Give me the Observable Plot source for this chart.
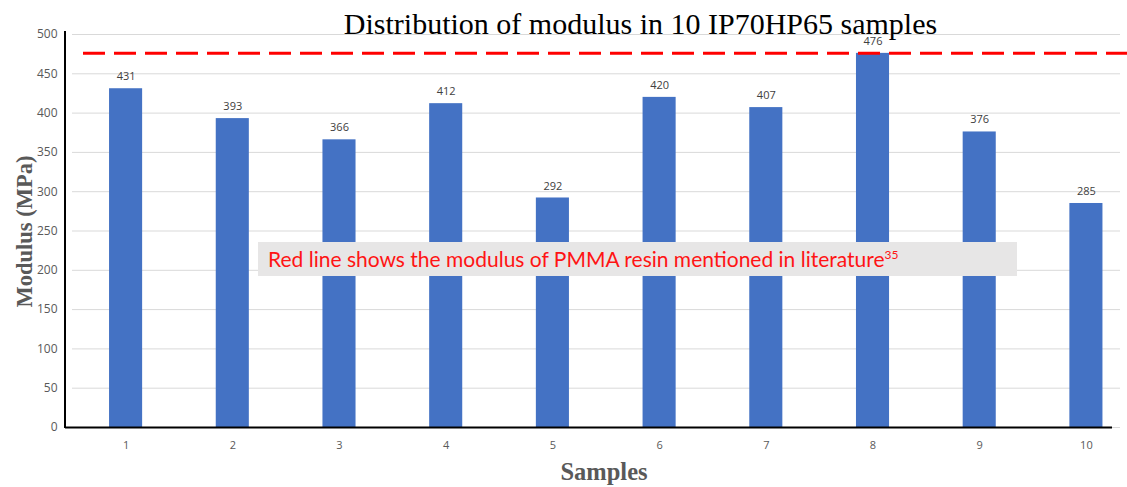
<!DOCTYPE html>
<html>
<head>
<meta charset="utf-8">
<script src="https://cdn.jsdelivr.net/npm/d3@7"></script>
<script src="https://cdn.jsdelivr.net/npm/@observablehq/plot@0.6"></script>
<style>
  html, body { margin: 0; padding: 0; background: #fff; }
  #wrap { position: relative; width: 1127px; height: 487px; }
  #note {
    position: absolute; left: 258px; top: 242px; width: 759px; height: 34px;
    background: #e7e6e6; color: #ff1414;
    font-family: Lato, sans-serif; font-size: 21px; line-height: 34px;
    box-sizing: border-box; padding-left: 10px; white-space: nowrap;
  }
  #note sup { font-size: 12px; vertical-align: 8px; line-height: 0; }
</style>
</head>
<body>
<div id="wrap"><div id="chart"></div><div id="note">Red line shows the modulus of PMMA resin mentioned in literature<sup>35</sup></div></div>
<script>
const samples = [1, 2, 3, 4, 5, 6, 7, 8, 9, 10];
const modulus = [431, 393, 366, 412, 292, 420, 407, 476, 376, 285];
const literatureModulus = 476;
const yTicks = [0, 50, 100, 150, 200, 250, 300, 350, 400, 450, 500];
const titleText = "Distribution of modulus in 10 IP70HP65 samples";
const xLabel = "Samples";
const yLabel = "Modulus (MPa)";

const data = samples.map((s, i) => ({sample: s, value: modulus[i]}));

const chart = Plot.plot({
  width: 1127,
  height: 487,
  marginLeft: 65,
  marginRight: 7,
  marginTop: 34,
  marginBottom: 60,
  style: {fontFamily: "'Open Sans', sans-serif", background: "#fff"},
  x: {type: "band", domain: samples, range: [71.7, 1139.8], paddingInner: 0.69, paddingOuter: 0.35, round: false},
  y: {domain: [0, 500], range: [427, 34]},
  marks: [
    Plot.ruleY(yTicks, {stroke: "#d9d9d9", strokeWidth: 1, insetLeft: 7}),
    Plot.barY(data, {x: "sample", y: "value", fill: "#4472c4"}),
    Plot.ruleY([0], {stroke: "#000", strokeWidth: 2, insetRight: 8}),
    Plot.ruleY([literatureModulus], {stroke: "#ff0000", strokeWidth: 3, strokeDasharray: "22,9", insetLeft: 18, insetRight: -7}),
    Plot.text(data, {x: "sample", y: "value", text: d => String(d.value), dy: -12, lineAnchor: "middle", fill: "#404040", fontSize: 11}),
    Plot.axisY({ticks: yTicks, tickSize: 0, tickPadding: 8, fontSize: 12, color: "#595959", label: null}),
    Plot.axisX({tickSize: 0, tickPadding: 14, fontSize: 11, color: "#595959", label: null}),
    Plot.text([titleText], {frameAnchor: "top", dx: 47.5, dy: -1, lineAnchor: "bottom", fontFamily: "'Liberation Serif', serif", fontSize: 30, fill: "#000"}),
    Plot.text([xLabel], {frameAnchor: "bottom", dx: 11, dy: 52, lineAnchor: "bottom", fontFamily: "'Liberation Serif', serif", fontWeight: "bold", fontSize: 24.5, fill: "#595959"}),
    Plot.text([yLabel], {frameAnchor: "left", dx: -34, dy: 0.5, rotate: -90, textAnchor: "middle", lineAnchor: "bottom", fontFamily: "'Liberation Serif', serif", fontWeight: "bold", fontSize: 22.5, fill: "#595959"})
  ]
});

// vertical y-axis line, positioned from the y scale
const ys = chart.scale("y");
d3.select(chart).append("line")
  .attr("x1", 65).attr("x2", 65)
  .attr("y1", ys.apply(0) + 1).attr("y2", ys.apply(500) - 3)
  .attr("stroke", "#000").attr("stroke-width", 2);

document.getElementById("chart").appendChild(chart);
</script>
</body>
</html>
